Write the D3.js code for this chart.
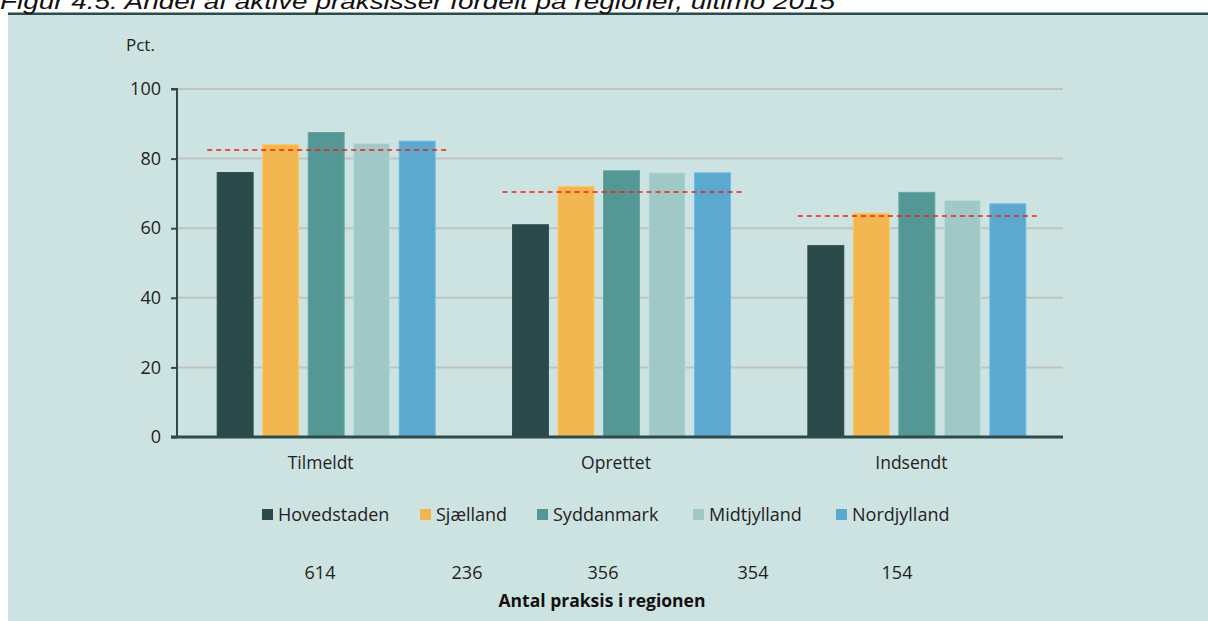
<!DOCTYPE html>
<html>
<head>
<meta charset="utf-8">
<script src="https://cdn.jsdelivr.net/npm/d3@7"></script>
<style>
body{margin:0;background:#fff;}
svg{display:block;}
</style>
</head>
<body>
<svg id="chart" width="1208" height="621"></svg>
<script>
const categories = ["Tilmeldt", "Oprettet", "Indsendt"];
const regions = ["Hovedstaden", "Sjælland", "Syddanmark", "Midtjylland", "Nordjylland"];
const hovedstaden = [76, 61, 55];
const sjaelland = [84, 72, 64.3];
const syddanmark = [87.5, 76.5, 70.3];
const midtjylland = [84.3, 75.9, 68];
const nordjylland = [85, 75.9, 67];
const average = [82.5, 70.4, 63.5];
const yTicks = [0, 20, 40, 60, 80, 100];
const practiceCounts = ["614", "236", "356", "354", "154"];
const colors = ["#2b4a4a", "#f2b650", "#559794", "#a0c8c7", "#5ca9cf"];

const series = [hovedstaden, sjaelland, syddanmark, midtjylland, nordjylland];
const svg = d3.select("#chart");
const font = "'Open Sans', sans-serif";

// background
svg.append("rect").attr("x", 8).attr("y", 14).attr("width", 1200).attr("height", 607).attr("fill", "#cde3e1");
svg.append("rect").attr("x", 8).attr("y", 12.5).attr("width", 1200).attr("height", 2.5).attr("fill", "#2d4b4b");
svg.append("text").attr("x", 0).attr("y", 9).attr("font-family", "'Liberation Sans', Arial, sans-serif")
  .attr("font-style", "italic").attr("font-size", 22).attr("fill", "#111")
  .attr("textLength", 835).attr("lengthAdjust", "spacingAndGlyphs")
  .text("Figur 4.5: Andel af aktive praksisser fordelt på regioner, ultimo 2015");

const x0 = 177, x1 = 1063, yTop = 89, yBot = 437;
const y = d3.scaleLinear().domain([0, 100]).range([yBot, yTop]);
const xg = d3.scaleBand().domain(categories).range([x0, x1]).paddingInner(0).paddingOuter(0);
const xs = d3.scaleBand().domain(regions).range([0, xg.bandwidth()]).paddingInner(0.21).paddingOuter(0.85);
const off = 1.5;

// gridlines
svg.append("g").selectAll("line").data(yTicks.filter(d => d > 0)).join("line")
  .attr("x1", x0).attr("x2", x1).attr("y1", d => y(d)).attr("y2", d => y(d))
  .attr("stroke", "#bfc3c3").attr("stroke-width", 2);

// bars
const g = svg.append("g");
categories.forEach((c, ci) => {
  regions.forEach((r, ri) => {
    g.append("rect")
      .attr("x", xg(c) + xs(r) + off)
      .attr("y", y(series[ri][ci]))
      .attr("width", xs.bandwidth())
      .attr("height", yBot - y(series[ri][ci]))
      .attr("fill", colors[ri])
      .attr("stroke", d3.color(colors[ri]).brighter(0.3))
      .attr("stroke-width", 1);
  });
  // average line
  const xa = xg(c) + xs(regions[0]) + off - 10;
  const xb = xg(c) + xs(regions[4]) + off + xs.bandwidth() + 12;
  svg.append("line").attr("x1", xa).attr("x2", xb)
    .attr("y1", y(average[ci])).attr("y2", y(average[ci]))
    .attr("stroke", "#f21b1b").attr("stroke-width", 1.5).attr("stroke-dasharray", "5,4");
});

// axes
const yAxis = d3.axisLeft(y).tickValues(yTicks).tickSize(6).tickPadding(10);
const ya = svg.append("g").attr("transform", `translate(${x0},0)`).call(yAxis);
ya.select(".domain").attr("stroke", "#2d4b4b").attr("stroke-width", 2).attr("d", `M-6,${yTop}H0V${yBot}`);
ya.selectAll(".tick line").attr("stroke", "#2d4b4b").attr("stroke-width", 2);
ya.selectAll(".tick text").attr("font-family", font).attr("font-size", 18).attr("fill", "#222");

const xAxis = d3.axisBottom(xg).tickSize(0).tickPadding(20);
const xa = svg.append("g").attr("transform", `translate(0,${yBot})`).call(xAxis);
xa.select(".domain").attr("stroke", "#2d4b4b").attr("stroke-width", 3).attr("d", `M${x0 - 6},0H${x1}`);
xa.selectAll(".tick text").attr("font-family", font).attr("font-size", 17.5).attr("fill", "#222")
  .attr("dx", -4);

svg.append("text").attr("x", 126).attr("y", 51).attr("font-family", font).attr("font-size", 17).attr("fill", "#222").text("Pct.");

// legend
const legendX = [262, 420, 537, 693, 836];
const lg = svg.append("g");
regions.forEach((r, i) => {
  lg.append("rect").attr("x", legendX[i]).attr("y", 509).attr("width", 11).attr("height", 11).attr("fill", colors[i]);
  lg.append("text").attr("x", legendX[i] + 16).attr("y", 521).attr("font-family", font).attr("font-size", 18)
    .attr("fill", "#222").text(r);
});

// practice counts
const countX = [320, 467, 603, 753, 897];
practiceCounts.forEach((t, i) => {
  svg.append("text").attr("x", countX[i]).attr("y", 579).attr("text-anchor", "middle")
    .attr("font-family", font).attr("font-size", 18).attr("fill", "#222").text(t);
});
svg.append("text").attr("x", 602).attr("y", 607).attr("text-anchor", "middle")
  .attr("font-family", font).attr("font-weight", "bold").attr("font-size", 17.5).attr("fill", "#111")
  .text("Antal praksis i regionen");
</script>
</body>
</html>
